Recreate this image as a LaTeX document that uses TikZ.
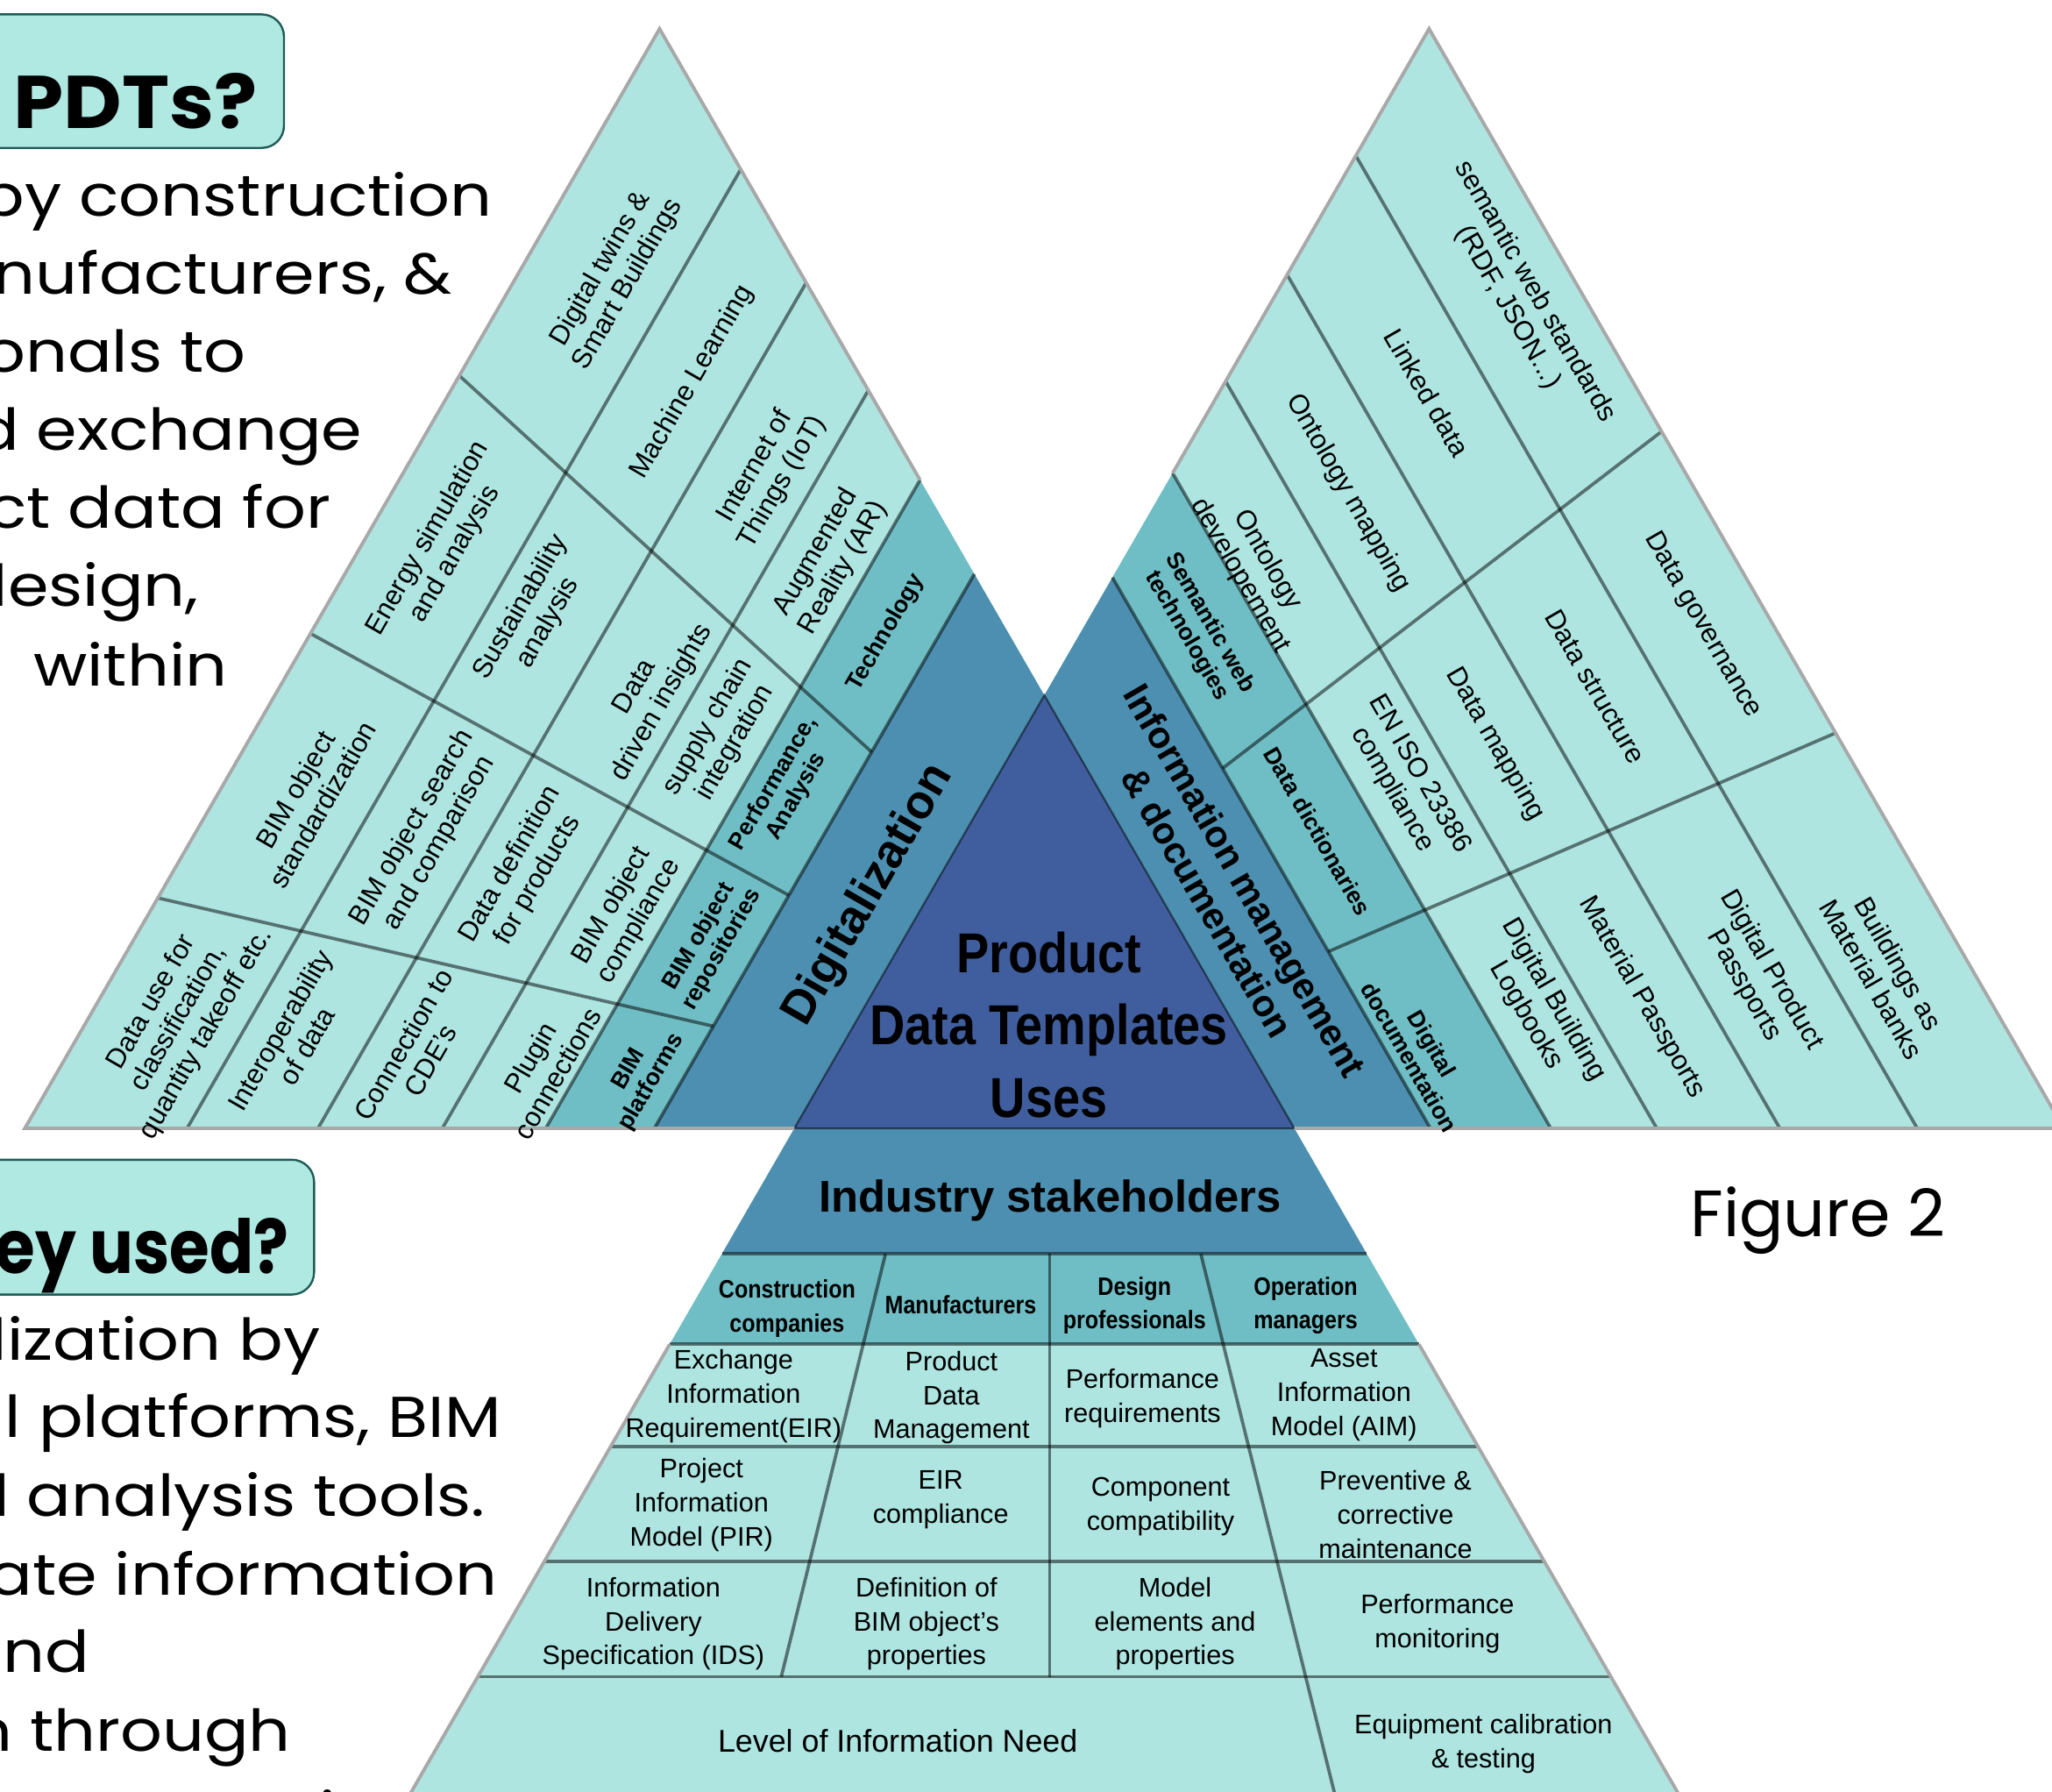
\documentclass[tikz,border=0pt]{standalone}
\usepackage{fontspec}
\setmainfont{Liberation Sans}
\newfontfamily\popfont{Poppins}
\newfontfamily\popwide{Poppins}[FakeStretch=1.14]
\newfontfamily\narrowfont{Liberation Sans}[FakeStretch=0.87]

\definecolor{cellpale}{RGB}{174,229,225}
\definecolor{cellmid}{RGB}{112,190,197}
\definecolor{banddark}{RGB}{76,143,176}
\definecolor{coreblue}{RGB}{64,94,158}
\definecolor{boxpale}{RGB}{176,232,226}
\definecolor{boxedge}{RGB}{31,92,87}
\definecolor{rimgray}{RGB}{168,168,168}

\tikzset{
	rim/.style={draw=rimgray, line width=2.6pt},
	sep/.style={draw=black, draw opacity=0.5, line width=2.5pt},
	celltxt/.style={align=center, inner sep=0pt, font=\fontsize{21}{24}\selectfont},
	headtxt/.style={align=center, inner sep=0pt, font=\fontsize{18}{20}\selectfont\bfseries},
	lcell/.style={celltxt, rotate=60},
	lhead/.style={headtxt, rotate=60},
	rcell/.style={celltxt, rotate=-60},
	rhead/.style={headtxt, rotate=-60},
	bcell/.style={align=center, inner sep=0pt, font=\fontsize{20.5}{26}\selectfont},
	bhead/.style={align=center, inner sep=0pt, font=\narrowfont\fontsize{19.3}{26}\selectfont\bfseries},
	qbox/.style={fill=boxpale, draw=boxedge, line width=1.6pt, rounded corners=17pt},
	qtitle/.style={anchor=base east, inner sep=0pt, font=\popfont\bfseries\fontsize{57}{60}\selectfont},
	prose/.style={anchor=base east, inner sep=0pt, font=\popwide\fontsize{44}{60}\selectfont}
}

\begin{document}
\begin{tikzpicture}[x=1pt, y=-1pt]
	\useasboundingbox (0,0) rectangle (1568,1369);
	\clip (0,0) rectangle (1568,1369);

	% corners of the three big triangles
	\coordinate (LA) at (504,22);    \coordinate (LB) at (19,862);     \coordinate (LC) at (989,862);
	\coordinate (RA) at (1092,22);   \coordinate (RB) at (607,862);    \coordinate (RC) at (1577,862);
	\coordinate (BA) at (798,531.2); \coordinate (BB) at (313,1371.2); \coordinate (BC) at (1283,1371.2);

	% column lines, left ones parallel to LB--LA, right ones to RC--RA
	\foreach \b [count=\i] in {143,243,338,417,500} {
		\coordinate (lb\i) at (\b,862);
		\coordinate (lt\i) at (intersection cs: first line={(\b,862)--(\b+485,22)}, second line={(LA)--(LC)});
	}
	\foreach \b [count=\i] in {1465,1360,1266,1185,1093} {
		\coordinate (rb\i) at (\b,862);
		\coordinate (rt\i) at (intersection cs: first line={(\b,862)--(\b-485,22)}, second line={(RA)--(RB)});
	}
	% rows of the lower triangle
	\foreach \y [count=\i] in {958,1027,1105,1193,1281} {
		\coordinate (rowL\i) at ({798-0.57735*(\y-531.2)},\y);
		\coordinate (rowR\i) at ({798+0.57735*(\y-531.2)},\y);
	}

	% fills
	\fill[cellpale] (LA) -- (LB) -- (LC) -- cycle;
	\fill[cellpale] (RA) -- (RB) -- (RC) -- cycle;
	\fill[cellpale] (BA) -- (BB) -- (BC) -- cycle;
	\fill[cellmid] (lb4) -- (lt4) -- (lt5) -- (lb5) -- cycle;
	\fill[banddark] (lb5) -- (lt5) -- (BA) -- (RB) -- cycle;
	\fill[cellmid] (rb4) -- (rt4) -- (rt5) -- (rb5) -- cycle;
	\fill[banddark] (rb5) -- (rt5) -- (BA) -- (LC) -- cycle;
	\fill[banddark] (RB) -- (LC) -- (rowR1) -- (rowL1) -- cycle;
	\fill[cellmid] (rowL1) -- (rowR1) -- (rowR2) -- (rowL2) -- cycle;
	\fill[coreblue] (BA) -- (RB) -- (LC) -- cycle;

	% separators
	\foreach \i in {1,...,5} {
		\draw[sep] (lb\i) -- (lt\i);
		\draw[sep] (rb\i) -- (rt\i);
		\draw[sep] (rowL\i) -- (rowR\i);
	}
	\coordinate (l1a) at (351,287);    \coordinate (l1b) at (666,574.5);
	\coordinate (l2a) at (237.2,484);  \coordinate (l2b) at (602.8,684);
	\coordinate (l3a) at (120.6,686);  \coordinate (l3b) at (545,784);
	\coordinate (r1a) at (934.2,587);  \coordinate (r1b) at (1269.6,329.7);
	\coordinate (r2a) at (1015,727);   \coordinate (r2b) at (1402.6,560);
	\foreach \n in {l1,l2,l3,r1,r2}
		\draw[sep] (\n a) -- (\n b);
	\coordinate (s1a) at (676.6,958);  \coordinate (s1b) at (597,1281);
	\coordinate (s2a) at (802,958);    \coordinate (s2b) at (802,1281);
	\coordinate (s3a) at (917.6,958);  \coordinate (s3b) at (1020,1371);
	\foreach \n in {s1,s2,s3}
		\draw[sep] (\n a) -- (\n b);
	\draw[sep, line width=1.5pt] (BA) -- (RB) -- (LC) -- cycle;

	% grey rim
	\draw[rim] (lt4) -- (LA) -- (LB) -- (RB);
	\draw[rim] (rt4) -- (RA) -- (RC) -- (LC);
	\draw[rim] (rowL2) -- (BB);
	\draw[rim] (rowR2) -- (BC);

	% left triangle
	\node[lcell] (twins) at (469.5,211.5) {Digital twins \&\\Smart Buildings};
	\node[lcell] (ml) at (529,292) {Machine Learning};
	\node[lcell] (iot) at (587.5,362.5) {Internet of\\Things (IoT)};
	\node[lcell] (ar) at (634,428) {Augmented\\Reality (AR)};
	\node[lhead] (tech) at (677,483.5) {Technology};
	\node[lcell] (energy) at (337.5,417.5) {Energy simulation\\and analysis};
	\node[lcell] (sust) at (408.5,470) {Sustainability\\analysis};
	\node[lcell] (insight) at (496,531) {Data\\driven insights};
	\node[lcell] (supply) at (551.5,561.5) {supply chain\\integration};
	\node[lhead] (perf) at (600,603.5) {Performance,\\Analysis};
	\node[lcell] (std) at (236,609) {BIM object\\standardization};
	\node[lcell] (search) at (325.5,638.5) {BIM object search\\and comparison};
	\node[lcell] (ddef) at (400.5,666.5) {Data definition\\for products};
	\node[lcell] (compl) at (478,698) {BIM object\\compliance};
	\node[lhead] (repo) at (543,720.5) {BIM object\\repositories};
	\node[lcell] (datause) at (137,778) {Data use for\\classification,\\quantity takeoff etc.};
	\node[lcell] (interop) at (224,793) {Interoperability\\of data};
	\node[lcell] (cde) at (318.5,804) {Connection to\\CDE's};
	\node[lcell] (plugin) at (415.5,814) {Plugin\\connections};
	\node[lhead] (platf) at (489.5,822) {BIM\\platforms};
	\node[lhead, font=\fontsize{36}{40}\selectfont\bfseries] (digit) at (664,684) {Digitalization};

	% right triangle
	\node[rcell] (semstd) at (1162.5,229) {semantic web standards\\(RDF, JSON...)};
	\node[rcell] (linked) at (1090.5,300) {Linked data};
	\node[rcell] (ontmap) at (1030,377) {Ontology mapping};
	\node[rcell] (ontdev) at (958,434) {Ontology\\developement};
	\node[rhead] (semtech) at (915.5,481) {Semantic web\\technologies};
	\node[rcell] (gov) at (1301,477.5) {Data governance};
	\node[rcell] (struct) at (1219,524.5) {Data structure};
	\node[rcell] (dmap) at (1142.5,568.5) {Data mapping};
	\node[rcell] (iso) at (1074,597.5) {EN ISO 23386\\compliance};
	\node[rhead] (dict) at (1007,635) {Data dictionaries};
	\node[rhead, font=\fontsize{28.5}{33}\selectfont\bfseries] (infomgmt) at (937,681) {Information management\\\& documentation};
	\node[rhead] (ddoc) at (1085.5,802.5) {Digital\\documentation};
	\node[rcell] (logbook) at (1176.5,770) {Digital Building\\Logbooks};
	\node[rcell] (matpass) at (1254.5,762) {Material Passports};
	\node[rcell] (dpp) at (1343,747) {Digital Product\\Passports};
	\node[rcell] (bank) at (1440.5,742) {Buildings as\\Material banks};

	% core and lower triangle
	\node[align=center, inner sep=0pt, font=\narrowfont\fontsize{43}{55}\selectfont\bfseries] (core) at (801.5,783) {Product\\Data Templates\\Uses};
	\node[anchor=base, inner sep=0pt, font=\fontsize{34}{40}\selectfont\bfseries] (stake) at (802.5,925.7) {Industry stakeholders};
	\node[bhead] (constr) at (601.4,999.6) {Construction\\companies};
	\node[bhead, anchor=base] (manuf) at (734.1,1003.9) {Manufacturers};
	\node[bhead] (design) at (866.9,997.4) {Design\\professionals};
	\node[bhead] (oper) at (997.7,997.4) {Operation\\managers};
	\node[bcell] (eir) at (560.5,1066.5) {Exchange\\Information\\Requirement(EIR)};
	\node[bcell] (pdm) at (727,1067.8) {Product\\Data\\Management};
	\node[bcell] (perfreq) at (873,1068.3) {Performance\\requirements};
	\node[bcell] (aim) at (1027,1065.8) {Asset\\Information\\Model (AIM)};
	\node[bcell] (pir) at (536,1149.9) {Project\\Information\\Model (PIR)};
	\node[bcell] (eirc) at (718.8,1146) {EIR\\compliance};
	\node[bcell] (compat) at (886.8,1150.8) {Component\\compatibility};
	\node[bcell] (maint) at (1066.3,1157.3) {Preventive \&\\corrective\\maintenance};
	\node[bcell] (ids) at (499.3,1240.6) {Information\\Delivery\\Specification (IDS)};
	\node[bcell] (bimdef) at (707.9,1240.6) {Definition of\\BIM object's\\properties};
	\node[bcell] (model) at (897.9,1240.6) {Model\\elements and\\properties};
	\node[bcell] (monit) at (1098.4,1240.5) {Performance\\monitoring};
	\node[bcell, anchor=base, font=\fontsize{24}{28}\selectfont] (loin) at (686,1338.8) {Level of Information Need};
	\node[bcell] (calib) at (1133.5,1332) {Equipment calibration\\\& testing};

	% side texts
	\draw[qbox] (-30,11) rectangle (217,113);
	\node[qtitle] (pdts) at (197,98.4) {\scalebox{1.076}[1]{PDTs?}};
	\node[prose] (p1) at (376,165.4) {by construction};
	\node[prose] (p2) at (346,225) {nufacturers, \&};
	\node[prose] (p3) at (188,284.6) {onals to};
	\node[prose] (p4) at (277,344.2) {d exchange};
	\node[prose] (p5) at (253,403.8) {ct data for};
	\node[prose] (p6) at (152,463.4) {lesign,};
	\node[prose] (p7) at (174,524) {within};
	\draw[qbox] (-30,886) rectangle (240,989);
	\node[qtitle] (used) at (221,973) {\scalebox{0.87}[1]{ey used?}};
	\node[prose] (q1) at (245,1039.2) {lization by};
	\node[prose] (q2) at (383,1098) {l platforms, BIM};
	\node[prose] (q3) at (371,1158.3) {d analysis tools.};
	\node[prose] (q4) at (380,1218.8) {ate information};
	\node[prose] (q5) at (68.3,1277.5) {nd};
	\node[prose] (q6) at (222.5,1337.9) {n through};
	\node[prose] (q7) at (321,1401) {entation};
	\node[anchor=base west, inner sep=0pt, font=\popfont\fontsize{50}{60}\selectfont] (fig) at (1291.5,944.4) {Figure 2};
\end{tikzpicture}
\end{document}
